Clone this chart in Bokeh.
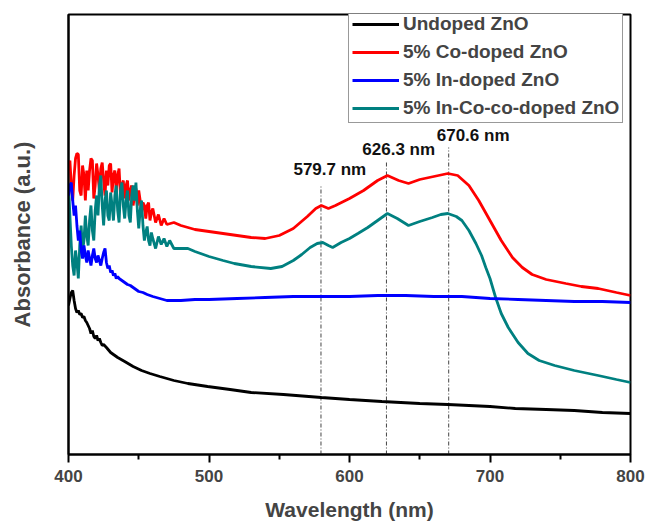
from bokeh.plotting import figure
from bokeh.models import Range1d, FixedTicker, Legend, LegendItem, ColumnDataSource
from bokeh.core.properties import value
from bokeh.embed import file_html
from bokeh.resources import INLINE

# ---------------- data (wavelength nm, absorbance a.u.) ----------------
black_wl = [400, 401, 402, 403, 404, 405, 406, 407, 408, 409, 410, 411, 412, 413, 414, 415, 416, 417, 418, 419,
            420, 421, 422, 423, 424, 425, 427, 430, 435, 440, 446, 452, 458, 465, 475, 485, 499, 515, 530, 553,
            580, 600, 623, 650, 670, 700, 718, 740, 760, 780, 800]
black_ab = [149, 156, 162, 164, 154, 146, 142, 144, 140, 141, 137, 138, 134, 132, 129, 126, 121, 124, 118, 116,
            119, 114, 116, 112, 109, 110, 107, 102, 97, 93, 88, 84, 81, 78, 74, 71, 68, 65, 62, 60,
            57, 55, 53, 51, 50, 48, 46, 45, 44, 42, 41]

red_wl = [400, 401, 402, 403, 404, 405, 406, 407, 408, 409, 410, 411, 412, 413, 414, 415, 416, 417, 418, 419,
          420, 421, 422, 423, 424, 425, 426, 427, 428, 429, 430, 431, 432, 433, 434, 435, 436, 437, 438, 439,
          440, 441, 442, 443, 444, 445, 446, 447, 448, 449, 450, 451, 452, 453, 454, 455, 456, 457, 458, 459,
          460, 462, 464, 466, 468, 470, 475, 480, 490, 500, 510, 520, 530, 540, 550, 560, 570, 576, 580, 585,
          590, 600, 610, 620, 627, 635, 642, 650, 660, 670, 677, 685, 692, 700, 708, 716, 723, 730, 740, 754,
          765, 777, 790, 800]
red_ab = [284, 294, 269, 254, 279, 296, 301, 300, 264, 259, 289, 279, 254, 284, 264, 284, 296, 294, 256, 269,
          291, 279, 264, 286, 292, 274, 259, 284, 269, 289, 291, 262, 279, 284, 264, 279, 286, 259, 269, 274,
          256, 269, 274, 254, 264, 269, 249, 259, 266, 249, 264, 254, 242, 252, 249, 236, 249, 252, 234, 242,
          246, 232, 240, 229, 236, 230, 232, 229, 225, 223, 221, 219, 217, 216, 219, 226, 238, 246, 249, 246,
          249, 256, 264, 274, 279, 274, 271, 275, 278, 281, 279, 269, 254, 234, 214, 197, 187, 180, 175, 171,
          168, 166, 162, 159]

blue_wl = [400, 401, 402, 403, 404, 405, 406, 407, 408, 409, 410, 411, 412, 413, 414, 415, 416, 417, 418, 419,
           420, 421, 422, 423, 424, 425, 426, 427, 428, 429, 430, 431, 432, 433, 434, 435, 436, 438, 440, 442,
           444, 446, 448, 450, 453, 456, 460, 465, 470, 475, 480, 490, 500, 520, 540, 560, 580, 600, 620, 640,
           660, 680, 700, 720, 740, 760, 780, 800]
blue_ab = [259, 269, 272, 254, 239, 249, 229, 214, 224, 204, 196, 209, 199, 192, 204, 196, 189, 199, 206, 196,
           192, 199, 194, 189, 196, 202, 206, 192, 186, 189, 182, 184, 179, 181, 176, 178, 176, 174, 172, 170,
           169, 167, 165, 163, 162, 160, 158, 156, 154, 154, 154, 155, 155, 156, 157, 158, 158, 158, 159, 159,
           158, 158, 156, 155, 154, 153, 153, 152]

teal_wl = [400, 401, 402, 403, 404, 405, 406, 407, 408, 409, 410, 411, 412, 413, 414, 415, 416, 417, 418, 419,
           420, 421, 422, 423, 424, 425, 426, 427, 428, 429, 430, 431, 432, 433, 434, 435, 436, 437, 438, 439,
           440, 441, 442, 443, 444, 445, 446, 447, 448, 449, 450, 451, 452, 453, 454, 455, 456, 457, 458, 459,
           460, 462, 464, 466, 468, 470, 472, 475, 480, 485, 490, 494, 500, 510, 518, 530, 544, 552, 560, 566,
           572, 577, 581, 585, 588, 594, 600, 606, 613, 620, 627, 634, 642, 650, 659, 665, 670, 676, 680, 685,
           690, 694, 697, 700, 704, 708, 713, 720, 727, 735, 746, 760, 777, 790, 800]
teal_ab = [271, 239, 209, 189, 179, 204, 192, 176, 209, 229, 204, 214, 239, 219, 209, 234, 249, 224, 214, 244,
           259, 239, 269, 279, 249, 229, 254, 264, 239, 234, 262, 249, 234, 259, 269, 244, 232, 264, 272, 249,
           236, 254, 264, 239, 232, 259, 269, 254, 272, 244, 226, 244, 254, 229, 214, 222, 228, 214, 209, 222,
           216, 206, 218, 210, 216, 208, 214, 206, 206, 206, 203, 201, 198, 194, 191, 188, 186, 188, 194, 200,
           207, 211, 212, 209, 207, 212, 216, 221, 227, 234, 241, 236, 229, 233, 237, 240, 241, 238, 234, 224,
           211, 199, 187, 176, 157, 141, 127, 112, 101, 94, 89, 84, 79, 75, 72]

labels = ["Undoped ZnO", "5% Co-doped ZnO", "5% In-doped ZnO", "5% In-Co-co-doped ZnO"]
colors = ["#000000", "#FF0000", "#0000FF", "#008080"]

peak_wl = [579.7, 626.3, 670.6]
peak_text = ["579.7 nm", "626.3 nm", "670.6 nm"]
peak_line_top = [269, 292, 307]
peak_text_x = [586, 635, 688]
peak_text_y = [285, 305, 319]

x_ticks = [400, 500, 600, 700, 800]
x_minor = [450, 550, 650, 750]

FONT = "Liberation Sans"

p = figure(output_backend="svg", toolbar_location=None,
           frame_width=562, frame_height=440,
           min_border_left=68, min_border_right=15, min_border_top=14, min_border_bottom=71,
           x_range=Range1d(400, 800), y_range=Range1d(0, 440),
           background_fill_color="white", border_fill_color="white")

p.grid.visible = False
p.outline_line_color = "black"
p.outline_line_width = 2

# dashed marker lines for peaks
p.segment(x0=peak_wl, y0=[0, 0, 0], x1=peak_wl, y1=peak_line_top,
          line_color="#444444", line_width=1, line_dash="4 2 1 2")

r_black = p.line(black_wl, black_ab, line_color=colors[0], line_width=2.8)
r_red = p.line(red_wl, red_ab, line_color=colors[1], line_width=2.8)
r_teal = p.line(teal_wl, teal_ab, line_color=colors[3], line_width=2.8)
r_blue = p.line(blue_wl, blue_ab, line_color=colors[2], line_width=2.8)

src = ColumnDataSource(dict(x=peak_text_x, y=peak_text_y, t=peak_text))
p.text(x="x", y="y", text="t", source=src, text_align="center", text_baseline="middle",
       text_font=value(FONT), text_font_style="bold", text_font_size="17px", text_color="#111111")

# x axis
xa = p.xaxis[0]
xa.ticker = FixedTicker(ticks=x_ticks, minor_ticks=x_minor)
xa.axis_label = "Wavelength (nm)"
xa.axis_label_text_font = FONT
xa.axis_label_text_font_style = "bold"
xa.axis_label_text_font_size = "21px"
xa.axis_label_standoff = 13
xa.major_label_text_font = FONT
xa.major_label_text_font_style = "bold"
xa.major_label_text_font_size = "17px"
xa.major_label_standoff = 7
xa.major_tick_out = 8
xa.major_tick_in = 0
xa.minor_tick_out = 5
xa.minor_tick_in = 0
xa.axis_line_width = 2
xa.major_tick_line_width = 2
xa.minor_tick_line_width = 2

# y axis
ya = p.yaxis[0]
ya.ticker = FixedTicker(ticks=[])
ya.major_label_text_font_size = "0px"
ya.major_tick_line_color = None
ya.minor_tick_line_color = None
ya.axis_line_width = 2
ya.axis_label = "Absorbance (a.u.)"
ya.axis_label_text_font = FONT
ya.axis_label_text_font_style = "bold"
ya.axis_label_text_font_size = "22px"
ya.axis_label_standoff = 34

legend = Legend(items=[LegendItem(label=labels[0], renderers=[r_black]),
                       LegendItem(label=labels[1], renderers=[r_red]),
                       LegendItem(label=labels[2], renderers=[r_blue]),
                       LegendItem(label=labels[3], renderers=[r_teal])],
                location=(280, 331))
legend.label_text_font = FONT
legend.label_text_font_style = "bold"
legend.label_text_font_size = "19px"
legend.glyph_width = 47
legend.glyph_height = 20
legend.label_height = 20
legend.label_standoff = 4
legend.spacing = 6
legend.padding = 3
legend.margin = 0
legend.border_line_color = "#333333"
legend.border_line_width = 1
legend.background_fill_color = "white"
legend.background_fill_alpha = 1
p.add_layout(legend)

open("out.html", "w").write(file_html(p, INLINE))
